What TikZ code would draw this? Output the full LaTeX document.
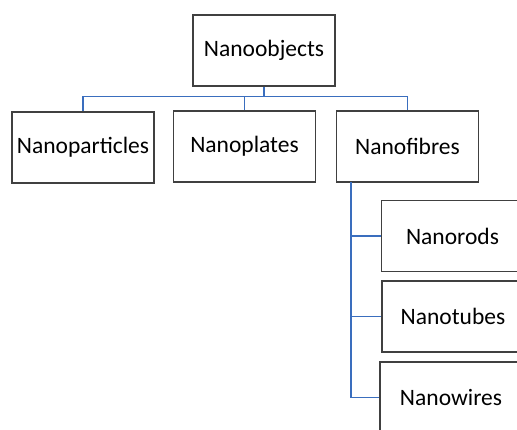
\documentclass[tikz,border=0pt]{standalone}
\usepackage{fontspec}
\setmainfont{Carlito}
\usepackage{tikz}
\usetikzlibrary{positioning}
\definecolor{linkblue}{RGB}{58,110,190}
\definecolor{boxgray}{RGB}{64,64,64}

\begin{document}
\begin{tikzpicture}[x=1pt,y=-1pt]
                    \tikzstyle{box}=[draw=boxgray, line width=1.4pt, minimum width=142pt, minimum height=71pt, inner sep=0pt, font=\fontsize{23.5}{28}\selectfont]
                    \tikzstyle{link}=[draw=linkblue, line width=1.3pt]
                    \useasboundingbox (0,0) rectangle (517,429);
                    \clip (0,0) rectangle (517,429);
                    \node [box] (obj) at (264,50.5) {Nanoobjects};
                    \node [box] (part) at (83,147.5) {Nanoparticles};
                    \node [box] (plates) at (244.5,146.5) {Nanoplates};
                    \node [box] (fibres) at (407.5,146.5) {Nanofibres};
                    \node [box] (rods) at (452.5,236) {Nanorods};
                    \node [box] (tubes) at (453,316.5) {Nanotubes};
                    \node [box] (wires) at (451,397.5) {Nanowires};
                    \coordinate (bus) at (264,96.5);
                    \coordinate (trunk) at (351,182);
                    \draw [link] (obj.south) -- (bus);
                    \draw [link] (bus) -| (part.north);
                    \draw [link] (bus) -| (plates.north);
                    \draw [link] (bus) -| (fibres.north);
                    \draw [link] (trunk) |- (rods.west);
                    \draw [link] (trunk) |- (tubes.west);
                    \draw [link] (trunk) |- (wires.west);
                \end{tikzpicture}
\end{document}
